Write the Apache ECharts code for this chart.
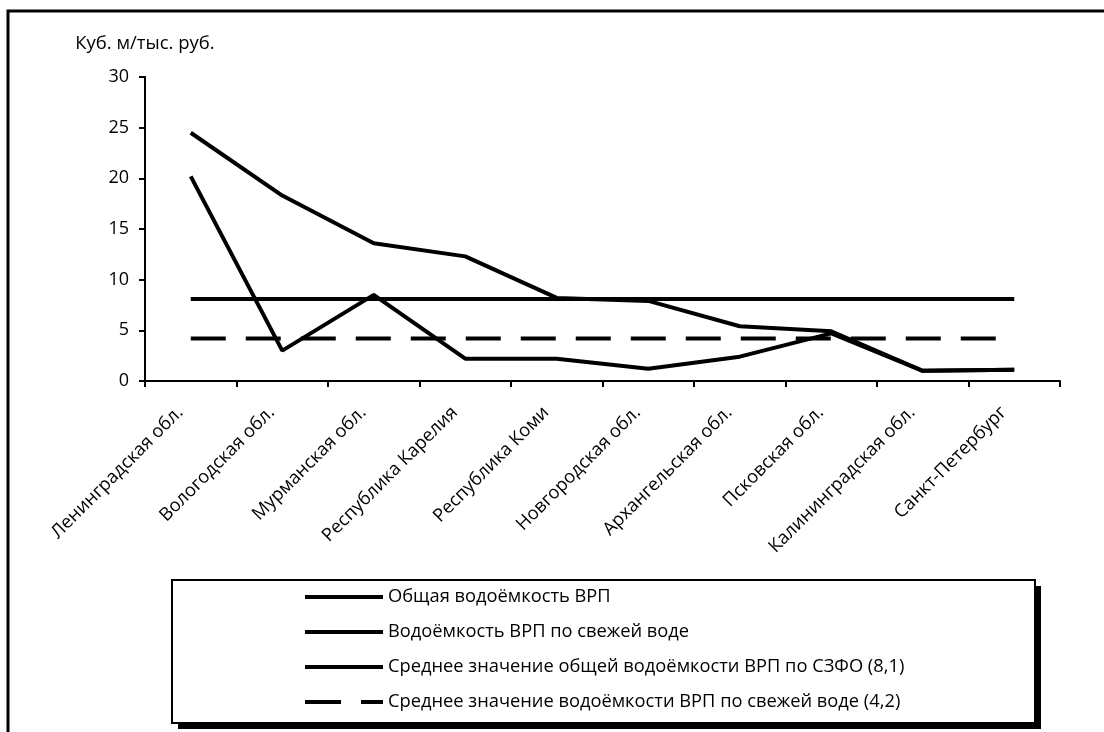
<!DOCTYPE html>
<html><head><meta charset="utf-8">
<script src="https://cdn.jsdelivr.net/npm/echarts@6/dist/echarts.min.js"></script>
<style>html,body{margin:0;padding:0;background:#fff}#c{width:1104px;height:732px}</style>
</head><body><div id="c"></div>
<script>
const categories = ['Ленинградская обл.','Вологодская обл.','Мурманская обл.','Республика Карелия','Республика Коми','Новгородская обл.','Архангельская обл.','Псковская обл.','Калининградская обл.','Санкт-Петербург'];
const totalWater = [24.5, 18.3, 13.6, 12.3, 8.2, 7.9, 5.4, 4.9, 1.0, 1.1];
const freshWater = [20.2, 3.0, 8.5, 2.2, 2.2, 1.2, 2.4, 4.7, 1.0, 1.1];
const avgTotal = [8.1, 8.1, 8.1, 8.1, 8.1, 8.1, 8.1, 8.1, 8.1, 8.1];
const avgFresh = [4.2, 4.2, 4.2, 4.2, 4.2, 4.2, 4.2, 4.2, 4.2, 4.2];
const seriesNames = ['Общая водоёмкость ВРП','Водоёмкость ВРП по свежей воде','Среднее значение общей водоёмкости ВРП по СЗФО (8,1)','Среднее значение водоёмкости ВРП по свежей воде (4,2)'];
const yAxisName = 'Куб. м/тыс. руб.';

const font = 'Open Sans';
const chart = echarts.init(document.getElementById('c'), null, {renderer:'canvas'});
function line(name, data, type){
  return {name, type:'line', data, symbol:'none', smooth:false,
    lineStyle:{color:'#000', width:4, type: type||'solid', cap:'butt'},
    itemStyle:{color:'#000'}, emphasis:{disabled:true}, animation:false};
}
const dashIcon = 'path://M0,0H36V4H0Z M56,0H78V4H56Z';
chart.setOption({
  animation:false,
  backgroundColor:'#fff',
  textStyle:{fontFamily:font, color:'#000'},
  graphic:[
    {type:'rect', shape:{x:8, y:11, width:1200, height:800}, style:{fill:'none', stroke:'#000', lineWidth:3}, z:0},
    {type:'rect', shape:{x:178, y:586, width:863, height:143}, style:{fill:'#000'}, z:0},
    {type:'rect', shape:{x:172, y:580, width:863, height:143}, style:{fill:'#fff', stroke:'#000', lineWidth:2}, z:1}
  ],
  grid:{left:145, right:44, top:77, bottom:351, containLabel:false},
  legend:{
    orient:'vertical', left:300, top:582, itemWidth:78, itemHeight:4, itemGap:15,
    textStyle:{fontFamily:font, fontSize:18.3, lineHeight:20, color:'#000'},
    data: [
      {name:seriesNames[0], icon:'rect'},
      {name:seriesNames[1], icon:'rect'},
      {name:seriesNames[2], icon:'rect'},
      {name:seriesNames[3], icon:dashIcon}
    ],
    itemStyle:{color:'#000', borderWidth:0},
    z:10, selectedMode:false
  },
  xAxis:{
    type:'category', data:categories, boundaryGap:true,
    axisLine:{lineStyle:{color:'#000', width:2}},
    axisTick:{show:true, alignWithLabel:false, length:6, lineStyle:{color:'#000', width:2}},
    axisLabel:{rotate:45, interval:0, margin:18, padding:[0,15,0,0], fontSize:18.3, color:'#000', fontFamily:font},
    splitLine:{show:false}
  },
  yAxis:{
    type:'value', min:0, max:30, interval:5,
    name:yAxisName, nameLocation:'end', nameGap:24,
    nameTextStyle:{fontSize:18.5, color:'#000', fontFamily:font, align:'center'},
    axisLine:{show:true, lineStyle:{color:'#000', width:2}},
    axisTick:{show:true, length:6, lineStyle:{color:'#000', width:2}},
    axisLabel:{fontSize:18, color:'#000', margin:16, fontFamily:font},
    splitLine:{show:false}
  },
  series:[
    line(seriesNames[0], totalWater),
    line(seriesNames[1], freshWater),
    line(seriesNames[2], avgTotal),
    line(seriesNames[3], avgFresh, [35,20])
  ]
});
</script></body></html>
